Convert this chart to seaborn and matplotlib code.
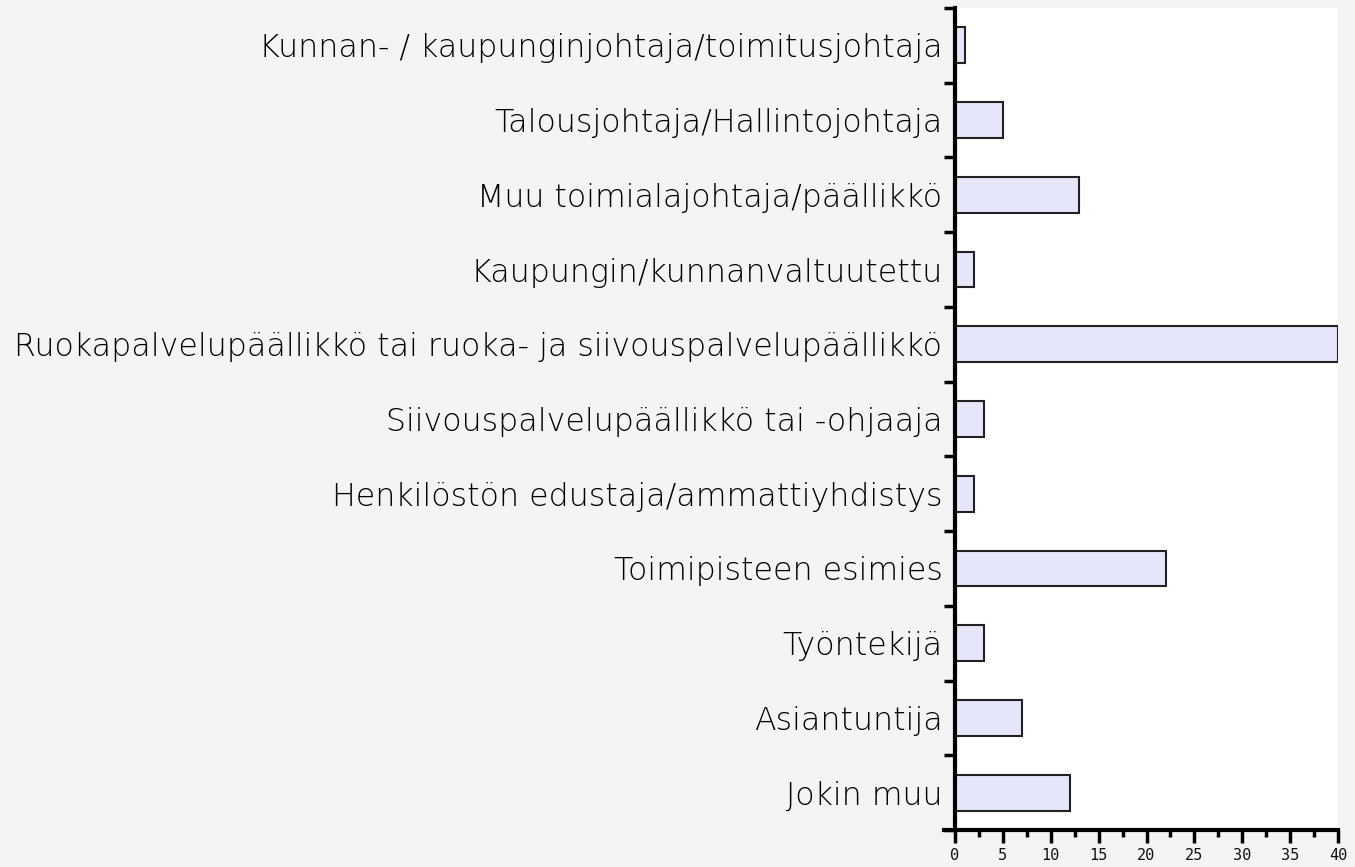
import matplotlib
matplotlib.use("Agg")
import matplotlib.pyplot as plt
import seaborn as sns
import pandas as pd
import numpy as np

categories = [
    "Kunnan- / kaupunginjohtaja/toimitusjohtaja",
    "Talousjohtaja/Hallintojohtaja",
    "Muu toimialajohtaja/päällikkö",
    "Kaupungin/kunnanvaltuutettu",
    "Ruokapalvelupäällikkö tai ruoka- ja siivouspalvelupäällikkö",
    "Siivouspalvelupäällikkö tai -ohjaaja",
    "Henkilöstön edustaja/ammattiyhdistys",
    "Toimipisteen esimies",
    "Työntekijä",
    "Asiantuntija",
    "Jokin muu",
]
counts = [1, 5, 13, 2, 40, 3, 2, 22, 3, 7, 12]
x_ticks = [0, 5, 10, 15, 20, 25, 30, 35, 40]

df = pd.DataFrame({"role": categories, "n": counts})

sns.set_style("white")
plt.rcParams["font.family"] = ["DejaVu Sans"]

fig = plt.figure(figsize=(13.55, 8.67), dpi=100, facecolor="#f4f4f4")
ax = fig.add_axes([955 / 1355, 1 - 830 / 867, (1338 - 955) / 1355, (830 - 8) / 867])
ax.set_facecolor("white")

sns.barplot(data=df, x="n", y="role", orient="h", color="#e6e6fa",
            edgecolor="#222222", linewidth=1.5, width=0.48, saturation=1, ax=ax)

ax.set_xlim(0, 40)
ax.set_ylim(len(categories) - 0.5, -0.5)
ax.set_xlabel("")
ax.set_ylabel("")

for s in ["top", "right"]:
    ax.spines[s].set_visible(False)
for s in ["left", "bottom"]:
    ax.spines[s].set_linewidth(3)
    ax.spines[s].set_color("black")
ax.spines["bottom"].set_bounds(-1.1, 40)

ax.set_xticks(x_ticks)
ax.set_xticklabels([str(t) for t in x_ticks], family="DejaVu Sans Mono", fontsize=11, color="#111111")
ax.set_xticks(np.arange(2.5, 40, 5), minor=True)
ax.tick_params(axis="x", which="both", bottom=True, direction="out", width=2.5, color="black")
ax.tick_params(axis="x", which="major", length=9, pad=4)
ax.tick_params(axis="x", which="minor", length=5)

ax.set_yticks(range(len(categories)))
ax.set_yticklabels(categories, fontsize=22.8, color="black", fontweight="light")
ax.set_yticks(np.arange(-0.5, len(categories), 1), minor=True)
ax.tick_params(axis="y", which="both", left=True)
ax.tick_params(axis="y", which="major", length=0, pad=9)
ax.tick_params(axis="y", which="minor", direction="out", length=8, width=2.5, color="black")

fig.savefig("out.png", dpi=100, facecolor=fig.get_facecolor())
